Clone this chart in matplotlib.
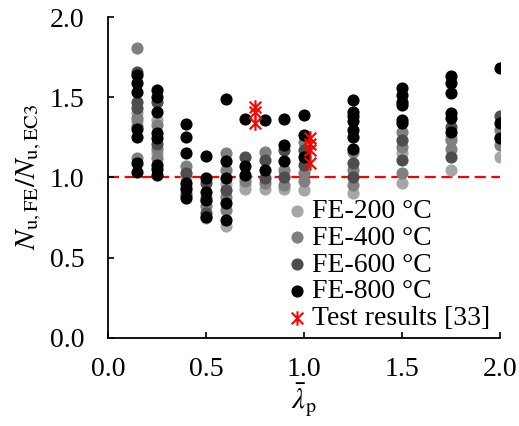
import numpy as np
import matplotlib
matplotlib.use("Agg")
import matplotlib.pyplot as plt
from matplotlib.path import Path

plt.rcParams['font.family'] = ['Liberation Serif', 'DejaVu Serif']
plt.rcParams['mathtext.fontset'] = 'stix'

# FE-200 (light grey)
lam_200 = [0.15, 0.15, 0.25, 0.25, 0.4, 0.4, 0.5, 0.5, 0.6, 0.6, 0.7, 0.7,
           0.8, 0.9, 1.0, 1.25, 1.5, 1.5, 1.75, 1.75, 2.0, 2.0]
nu_200 = [1.40, 1.35, 1.36, 1.15, 1.00, 0.90, 0.745, 0.85, 0.695, 0.96, 0.93, 0.953,
          0.93, 0.93, 0.92, 0.90, 0.965, 1.15, 1.047, 1.25, 1.13, 1.25]

# FE-400 (grey)
lam_400 = [0.15, 0.15, 0.15, 0.15, 0.25, 0.25, 0.25, 0.4, 0.4, 0.5, 0.5,
           0.6, 0.6, 0.6, 0.6, 0.7, 0.7, 0.8, 0.8, 0.9, 0.9, 1.0, 1.0, 1.0,
           1.25, 1.25, 1.25, 1.5, 1.5, 1.5, 1.75, 1.75, 2.0, 2.0]
nu_400 = [1.805, 1.37, 1.32, 1.12, 1.33, 1.18, 1.12, 1.07, 0.94, 0.82, 0.88,
          1.047, 0.88, 0.80, 1.15, 0.975, 1.0, 1.16, 0.965, 1.047, 0.953, 1.22, 1.026, 0.975,
          1.16, 1.047, 0.953, 1.285, 1.19, 1.026, 1.234, 1.18, 1.296, 1.20]

# FE-600 (dark grey)
lam_600 = [0.15, 0.15, 0.15, 0.25, 0.25, 0.4, 0.4, 0.5, 0.5, 0.6, 0.7,
           0.8, 0.8, 0.9, 0.9, 1.0, 1.0, 1.25, 1.25, 1.5, 1.5, 1.75, 1.75, 2.0]
nu_600 = [1.66, 1.43, 1.47, 1.47, 1.21, 1.03, 0.89, 0.965, 0.78, 0.92, 1.13,
          1.11, 0.995, 1.17, 1.005, 1.17, 1.08, 1.09, 1.005, 1.234, 1.11, 1.317, 1.13, 1.38]

# FE-800 (black)
lam_800 = [0.15] * 7 + [0.25] * 8 + [0.4] * 6 + [0.5] * 5 + [0.6] * 5 + [0.7] * 3 + \
          [0.8] * 2 + [0.9] * 3 + [1.0] * 3 + [1.25] * 7 + [1.5] * 6 + [1.75] * 6 + [2.0] * 3
nu_800 = [1.64, 1.59, 1.535, 1.25, 1.30, 1.09, 1.036,
          1.545, 1.50, 1.41, 1.275, 1.245, 1.08, 1.05, 1.015,
          1.335, 1.25, 1.15, 0.965, 0.93, 0.87,
          1.135, 0.995, 0.91, 0.86, 0.755,
          1.49, 1.10, 0.995, 0.84, 0.735,
          1.365, 1.07, 1.015,
          1.355, 1.047,
          1.365, 1.20, 1.10,
          1.39, 1.265, 1.13,
          1.48, 1.41, 1.38, 1.35, 1.296, 1.255, 1.18,
          1.56, 1.515, 1.47, 1.45, 1.36, 1.34,
          1.63, 1.587, 1.525, 1.40, 1.37, 1.285,
          1.68, 1.34, 1.245]

# test results [33]
lam_test = [0.75, 0.75, 0.75, 1.03, 1.03, 1.03, 1.03]
nu_test = [1.44, 1.41, 1.34, 1.245, 1.21, 1.17, 1.09]

# asterisk marker (x plus vertical bar)
star = Path([(-1, -1), (1, 1), (-1, 1), (1, -1), (0, -1.25), (0, 1.25)],
            [Path.MOVETO, Path.LINETO, Path.MOVETO, Path.LINETO, Path.MOVETO, Path.LINETO])

fig = plt.figure(figsize=(5.19, 4.26), dpi=100)
ax = fig.add_axes([0.208, 0.207, 0.755, 0.753])

ax.plot([0, 2], [1, 1], color='#ff0000', ls=(0, (5, 2.5)), lw=1.6, zorder=1)

ms = 60
ax.scatter(lam_200, nu_200, s=ms, color='#a6a6a6', label='FE-200 \u00b0C', zorder=2)
ax.scatter(lam_400, nu_400, s=ms, color='#7f7f7f', label='FE-400 \u00b0C', zorder=3)
ax.scatter(lam_600, nu_600, s=ms, color='#4d4d4d', label='FE-600 \u00b0C', zorder=4)
ax.scatter(lam_800, nu_800, s=ms, color='black', label='FE-800 \u00b0C', zorder=5)
ax.scatter(lam_test, nu_test, s=110, marker=star, color='#ff0000', linewidths=1.5,
           label='Test results [33]', zorder=6)

ax.set_xlim(0, 2.0)
ax.set_ylim(0, 2.0)
ax.set_xticks(np.arange(0, 2.01, 0.5))
ax.set_yticks(np.arange(0, 2.01, 0.5))
ax.xaxis.set_major_formatter(matplotlib.ticker.FormatStrFormatter('%.1f'))
ax.yaxis.set_major_formatter(matplotlib.ticker.FormatStrFormatter('%.1f'))
ax.tick_params(direction='in', length=4, width=1.2, labelsize=20, pad=14)
ax.tick_params(axis='y', pad=17)
for side in ['top', 'right']:
    ax.spines[side].set_visible(False)
for side in ['left', 'bottom']:
    ax.spines[side].set_linewidth(1.3)

ax.set_xlabel(r'$\bar{\lambda}_{\mathrm{p}}$', fontsize=21, labelpad=0)
ax.set_ylabel(r'$N_{\mathrm{u,FE}}/N_{\mathrm{u,EC3}}$', fontsize=21, labelpad=4)

ax.legend(loc='lower right', bbox_to_anchor=(1.025, -0.04), frameon=False, fontsize=20,
          handletextpad=0.0, labelspacing=0.05, borderpad=0.2, handlelength=1.1)

fig.savefig('out.png', dpi=100)
